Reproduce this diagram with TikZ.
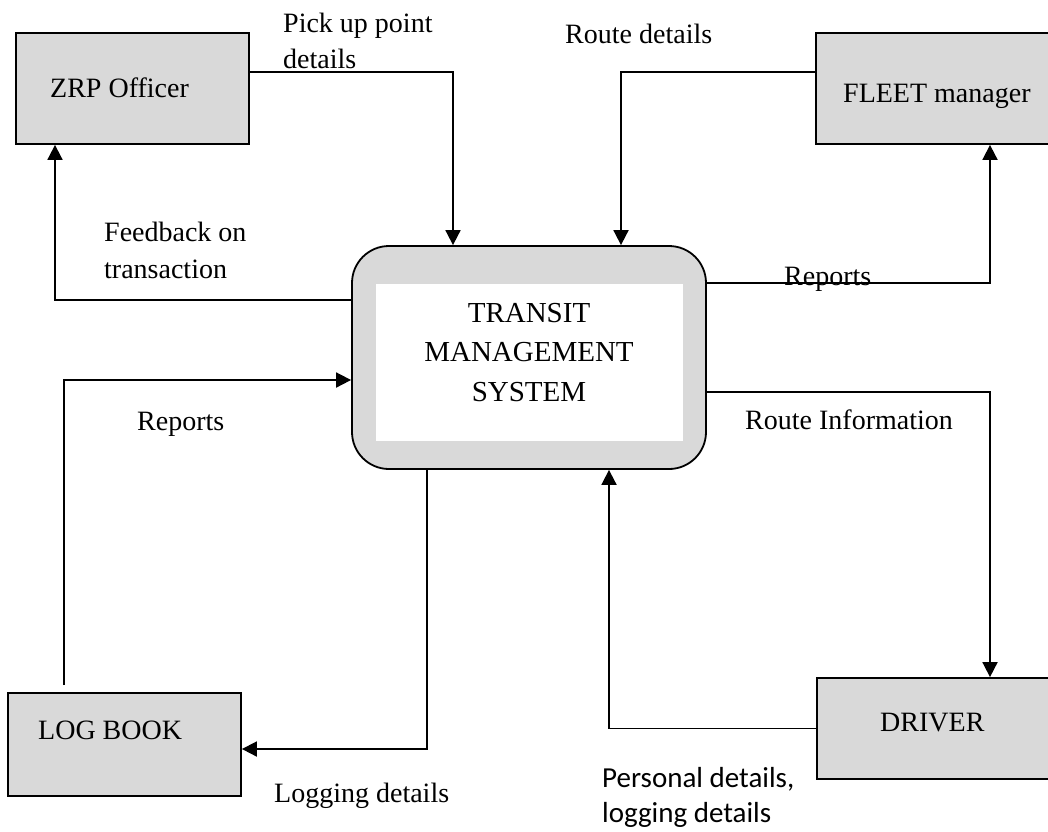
\documentclass[tikz,border=0pt]{standalone}
\usepackage{fontspec}
\setmainfont{Liberation Serif}
\newfontfamily\calib{Carlito}
\usetikzlibrary{arrows.meta}
\definecolor{boxgray}{RGB}{217,217,217}
\begin{document}
\begin{tikzpicture}[x=1pt,y=-1pt,
  entity/.style={draw=black,line width=1.8pt,fill=boxgray,rectangle,inner sep=0pt},
  flow/.style={line width=1.8pt,-{Triangle[width=15pt,length=15pt]}},
  lbl/.style={inner sep=0pt,anchor=base west,font=\fontsize{28}{37}\selectfont},
  lblsans/.style={inner sep=0pt,anchor=base west,font=\calib\fontsize{29}{35}\selectfont}]
\useasboundingbox (0,0) rectangle (1048,831);
\clip (0,0) rectangle (1048,831);

% external entities
\node[entity,minimum width=233pt,minimum height=111pt] (zrp) at (132.5,88.5) {};
\node[entity,minimum width=240pt,minimum height=111pt] (fleet) at (936,88.5) {};
\node[entity,minimum width=233pt,minimum height=103pt] (logbook) at (124.5,744.5) {};
\node[entity,minimum width=240pt,minimum height=101pt] (driver) at (937,728.5) {};

\node[lbl] (zrptext) at (50,97) {ZRP Officer};
\node[lbl] (fleettext) at (843,102) {FLEET manager};
\node[lbl] (logtext) at (38,739) {LOG BOOK};
\node[lbl] (drivertext) at (880,731) {DRIVER};

% central process
\node[draw=black,line width=1.8pt,fill=boxgray,rounded corners=37pt,
      minimum width=354pt,minimum height=223pt,inner sep=0pt] (tms) at (529,357.5) {};
\node[fill=white,minimum width=307pt,minimum height=157pt,inner sep=0pt] (tmsinner) at (529.5,362.5) {};
\node[inner sep=0pt,align=center,font=\fontsize{29}{39.5}\selectfont,anchor=north] (tmstext) at (529,303)
  {TRANSIT\\MANAGEMENT\\SYSTEM};

% data flows
\draw[flow] ([yshift=16.5pt]zrp.east) -| ([xshift=-76pt]tms.north);
\draw[flow] ([yshift=57.5pt]tms.west) -| ([xshift=-77.5pt]zrp.south);
\draw[flow] ([yshift=16.5pt]fleet.west) -| ([xshift=92pt]tms.north);
\draw[flow] ([yshift=74.5pt]tms.east) -| ([xshift=54pt]fleet.south);
\draw[flow] ([xshift=-60.5pt,yshift=7pt]logbook.north) |- ([yshift=-22.5pt]tms.west);
\draw[flow] ([xshift=-102pt]tms.south) |- ([yshift=-4.5pt]logbook.east);
\draw[flow] ([yshift=-34.5pt]tms.east) -| ([xshift=53pt]driver.north);
\draw[flow] (driver.west) -| ([xshift=80pt]tms.south);

% flow labels
\node[lbl] (l1a) at (283,32) {Pick up point};
\node[lbl] (l1b) at (283,68) {details};
\node[lbl] (l2a) at (104,241) {Feedback on};
\node[lbl] (l2b) at (104,278) {transaction};
\node[lbl] (l3) at (565,43) {Route details};
\node[lbl] (l4) at (784,285) {Reports};
\node[lbl] (l5) at (137,430) {Reports};
\node[lbl] (l6) at (274,802) {Logging details};
\node[lbl] (l7) at (745,429) {Route Information};
\node[lblsans] (l8a) at (602,787) {Personal details,};
\node[lblsans] (l8b) at (602,822) {logging details};
\end{tikzpicture}
\end{document}
